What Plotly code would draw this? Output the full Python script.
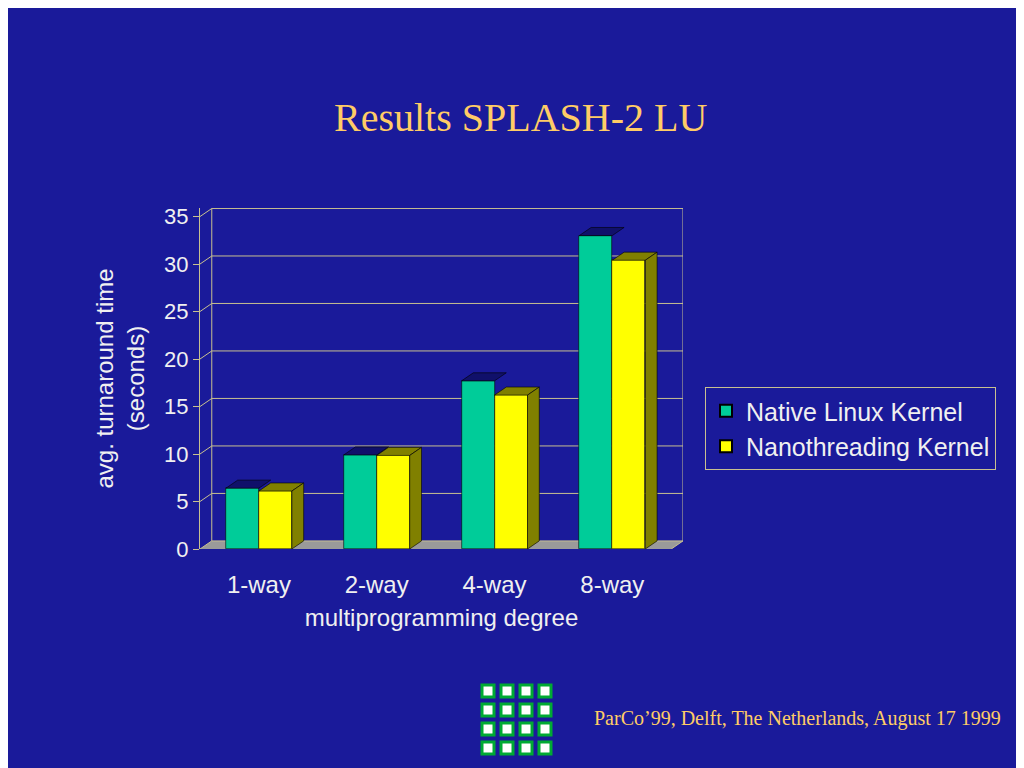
import plotly.graph_objects as go

categories = ["1-way", "2-way", "4-way", "8-way"]
native = [6.4, 9.9, 17.7, 33.0]
nano = [6.1, 9.85, 16.2, 30.4]
yticks = [0, 5, 10, 15, 20, 25, 30, 35]

BG = "#1a1a9a"
LINE = "#c8c090"
GREEN = "#00cc99"
YELLOW = "#ffff00"
dx, dy = 0.1, 0.85
w = 0.28
xs = list(range(len(categories)))
OX, OY = 8, 8  # page offset
L, R, T, B = 200 - OX, 683 - OX, 208 - OY, 549 - OY
PW, PH = R - L, B - T

fig = go.Figure()
fig.add_bar(x=[x - w / 2 for x in xs], y=native, width=w, name="Native Linux Kernel",
            marker=dict(color=GREEN, line=dict(color="#000000", width=0.6)))
fig.add_bar(x=[x + w / 2 for x in xs], y=nano, width=w, name="Nanothreading Kernel",
            marker=dict(color=YELLOW, line=dict(color="#000000", width=0.6)))

shapes = []
shapes.append(dict(type="path", layer="below", fillcolor="#9a9a9a", line=dict(color="#9a9a9a", width=0),
                   path=f"M -0.5 0 L 3.5 0 L {3.5+dx} {dy} L {-0.5+dx} {dy} Z"))
for v in yticks:
    shapes.append(dict(type="line", layer="below", x0=-0.5 + dx, x1=3.5 + dx, y0=v + dy, y1=v + dy,
                       line=dict(color=LINE, width=1)))
    shapes.append(dict(type="line", layer="below", x0=-0.5, x1=-0.5 + dx, y0=v, y1=v + dy,
                       line=dict(color=LINE, width=1)))
shapes.append(dict(type="line", layer="below", x0=-0.5 + dx, x1=-0.5 + dx, y0=dy, y1=35 + dy, line=dict(color=LINE, width=1)))
shapes.append(dict(type="line", layer="below", x0=3.5 + dx, x1=3.5 + dx, y0=dy, y1=35 + dy, line=dict(color=LINE, width=1)))
shapes.append(dict(type="line", layer="below", x0=3.5, x1=3.5 + dx, y0=0, y1=dy, line=dict(color=LINE, width=1)))

def faces(x0, x1, h, top, side, with_side):
    out = [dict(type="path", layer="above", fillcolor=top, line=dict(color="#000000", width=0.6),
                path=f"M {x0} {h} L {x1} {h} L {x1+dx} {h+dy} L {x0+dx} {h+dy} Z")]
    if with_side:
        out.append(dict(type="path", layer="above", fillcolor=side, line=dict(color="#000000", width=0.6),
                        path=f"M {x1} 0 L {x1+dx} {dy} L {x1+dx} {h+dy} L {x1} {h} Z"))
    return out

for x, a, b in zip(xs, native, nano):
    shapes += faces(x - w, x, a, "#10106a", "#10106a", False)
    shapes += faces(x, x + w, b, "#808000", "#808000", True)

def px(xp):
    return (xp - OX - L) / PW

def py(yp):
    return (B - (yp - OY)) / PH

for i in range(4):
    for j in range(4):
        shapes.append(dict(type="rect", xref="paper", yref="paper", layer="above",
                           x0=px(482 + i * 19), x1=px(494 + i * 19),
                           y0=py(685 + j * 19 + 12), y1=py(685 + j * 19),
                           fillcolor="#ffffff", line=dict(color="#00aa33", width=3)))

fig.update_layout(
    width=1024, height=768, autosize=False,
    margin=dict(l=L, r=1024 - R, t=T, b=768 - B),
    paper_bgcolor=BG, plot_bgcolor=BG,
    barmode="overlay", bargap=0,
    shapes=shapes,
    font=dict(family="Liberation Sans, Arial", color="#f0f0f0", size=22),
    xaxis=dict(range=[-0.5, 3.5 + dx], tickvals=xs, ticktext=categories, showgrid=False,
               zeroline=False, showline=False, ticks="outside", ticklen=14, tickcolor="rgba(0,0,0,0)",
               tickfont=dict(size=24),
               title=dict(text="multiprogramming degree", standoff=12, font=dict(size=24))),
    yaxis=dict(range=[0, 35 + dy + 0.05], tickvals=yticks, showgrid=False, zeroline=False,
               showline=True, linecolor=LINE, ticks="outside", tickcolor=LINE, ticklen=6,
               tickfont=dict(size=22),
               title=dict(text="avg. turnaround time<br>(seconds)", standoff=12, font=dict(size=24))),
    legend=dict(x=px(705), y=py(387), xanchor="left", yanchor="top",
                bgcolor=BG, bordercolor=LINE, borderwidth=1, font=dict(size=25, color="#f0f0f0"),
                itemsizing="constant", tracegroupgap=0),
    annotations=[
        dict(text="Results SPLASH-2 LU", xref="paper", yref="paper", x=px(520),
             y=py(117), showarrow=False, yanchor="middle",
             font=dict(family="Liberation Serif, Times New Roman", size=40, color="#ffcc66")),
        dict(text="ParCo\u201999, Delft, The Netherlands, August 17 1999", xref="paper", yref="paper",
             x=px(1003), y=py(718), xanchor="right", yanchor="middle", showarrow=False,
             font=dict(family="Liberation Serif, Times New Roman", size=20, color="#ffcc66")),
    ],
)
fig.write_html("out.html")
